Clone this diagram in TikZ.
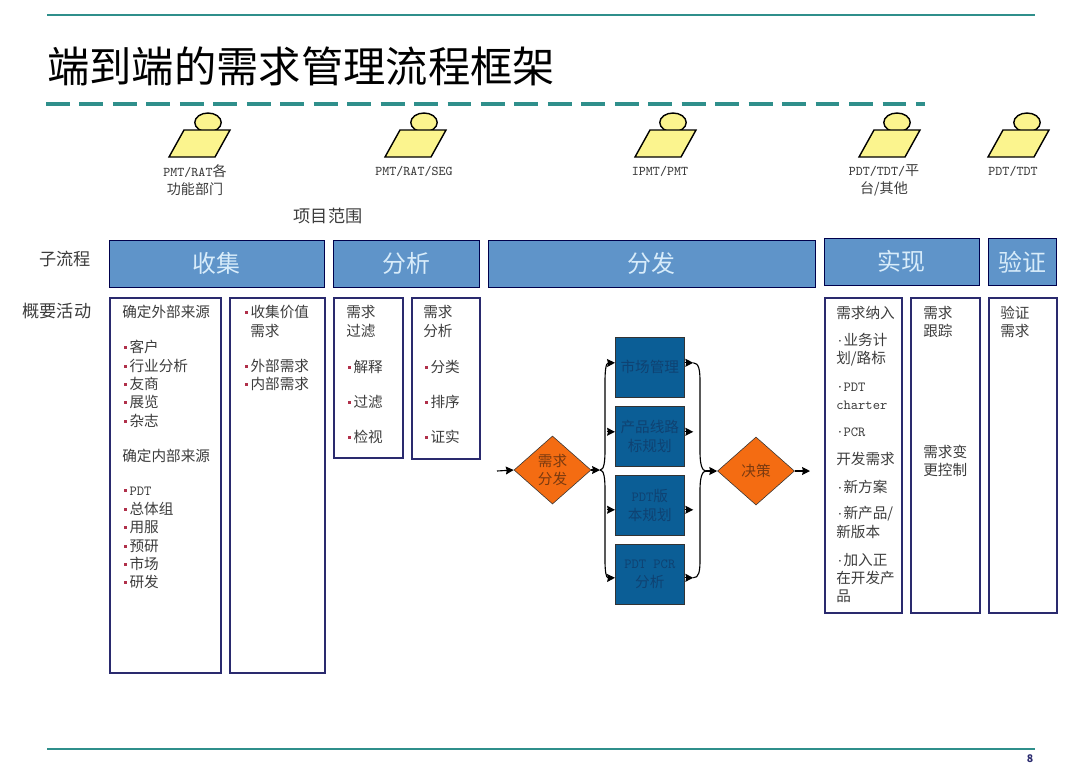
\documentclass[tikz,border=0pt]{standalone}
\usepackage{fontspec}
\setmainfont{Noto Sans CJK SC}
\setmonofont[Scale=0.95]{Latin Modern Mono}
\usetikzlibrary{arrows.meta,shapes.geometric}
\definecolor{tealline}{HTML}{2F8F8B}
\definecolor{headblue}{HTML}{5F94C9}
\definecolor{headtext}{HTML}{D8ECFA}
\definecolor{navyline}{HTML}{2A2A6E}
\definecolor{deepblue}{HTML}{0B5E96}
\definecolor{deeptext}{HTML}{0F4272}
\definecolor{flagorange}{HTML}{F46C12}
\definecolor{flagtext}{HTML}{7A3A10}
\definecolor{actoryellow}{HTML}{FBF48E}
\definecolor{graytext}{HTML}{3C3C3C}
\definecolor{bulletred}{HTML}{B0304A}
\newcommand{\lat}[1]{{\ttfamily #1}}
\newcommand{\bul}{\hspace{1.4pt}\textcolor{bulletred}{\rule[2.6pt]{1.8pt}{1.8pt}}\hspace{2pt}}
\tikzset{
  headbox/.style 2 args={draw=black!70!blue,fill=headblue,text=headtext,font=\fontsize{17}{20}\selectfont,
    minimum width=(#1-1)*0.25mm,minimum height=(#2-1)*0.25mm,inner sep=0pt},
  listbox/.style 2 args={draw=navyline,line width=1.1pt,anchor=north west,
    minimum width=(#1-1)*0.25mm,minimum height=(#2-1)*0.25mm,inner sep=0pt},
  listtext/.style={anchor=west,inner sep=0pt,text=graytext,font=\fontsize{10.4}{12}\selectfont},
  toptext/.style={inner sep=0pt,text=graytext,align=center,font=\fontsize{10}{13}\selectfont},
  sidetext/.style={inner sep=0pt,text=graytext,font=\fontsize{12.2}{14}\selectfont},
  planbox/.style={draw=black!80,fill=deepblue,text=deeptext,align=center,anchor=north west,
    minimum width=69*0.25mm,minimum height=60*0.25mm,inner sep=0pt,font=\fontsize{10.4}{13}\selectfont},
  decide/.style={diamond,draw=black!80,fill=flagorange,text=flagtext,align=center,
    aspect=1.12,minimum width=77*0.25mm,minimum height=68*0.25mm,inner sep=0pt,font=\fontsize{10.4}{13}\selectfont},
  flow/.style={line width=0.8pt,-{Stealth[length=5.6pt,width=5.6pt,inset=0.6pt]}},
  plainflow/.style={line width=0.8pt},
}
\begin{document}
\begin{tikzpicture}[x=0.25mm,y=-0.25mm]
  \useasboundingbox (0,0) rectangle (1080,764);
  % page frame
  \draw[tealline,line width=1pt] (47,15) -- (1035,15);
  \draw[tealline,line width=1pt] (47,749) -- (1035,749);
  \draw[tealline,line width=2.4pt,dash pattern=on 17pt off 6.8pt] (46,104) -- (925,104);
  \node[anchor=west,inner sep=0pt,font=\fontsize{30.1}{32}\selectfont] (title) at (47,66) {端到端的需求管理流程框架};
  \node[inner sep=0pt,text=navyline,font=\bfseries\fontsize{7.5}{9}\selectfont] (pageno) at (1030,759) {8};

  % roles
  \foreach \x/\h in {169/208,385/424,635/673,859/897,988/1027}{
    \draw[fill=actoryellow,line width=1pt] (\h,122.5) ellipse (13.2 and 9.5);
    \draw[fill=actoryellow,line width=1pt] (\x,157) -- (\x+15,130) -- (\x+61,130) -- (\x+46,157) -- cycle;}
  \node[toptext] (role1) at (195,180) {\lat{PMT/RAT}各\\功能部门};
  \node[toptext] (role2) at (414,171) {\lat{PMT/RAT/SEG}};
  \node[toptext] (role3) at (660,171) {\lat{IPMT/PMT}};
  \node[toptext] (role4) at (884,180) {\lat{PDT/TDT/}平\\台/其他};
  \node[toptext] (role5) at (1013,171) {\lat{PDT/TDT}};
  \node[sidetext] (scope) at (328,216) {项目范围};

  % row titles
  \node[sidetext] (rowsub) at (65,259) {子流程};
  \node[sidetext] (rowact) at (57,311) {概要活动};

  % phase headers
  \node[headbox={216}{48},anchor=north west] (collect) at (109,240) {收集};
  \node[headbox={147}{48},anchor=north west] (analyse) at (333,240) {分析};
  \node[headbox={328}{48},anchor=north west] (assign) at (488,240) {分发};
  \node[headbox={156}{48},anchor=north west] (realize) at (824,238) {实现};
  \node[headbox={69}{48},anchor=north west] (verify) at (988,238) {验证};

  % activity boxes
  \node[listbox={112}{376}] (list1) at (109,297) {};
  \node[listbox={96}{376}] (list2) at (229,297) {};
  \node[listbox={70}{161}] (list3) at (333,297) {};
  \node[listbox={69}{162}] (list4) at (411,297) {};
  \node[listbox={78}{316}] (list5) at (824,297) {};
  \node[listbox={70}{316}] (list6) at (910,297) {};
  \node[listbox={69}{316}] (list7) at (988,297) {};

  \foreach \y/\t in {312/确定外部来源,347/\bul 客户,366/\bul 行业分析,384/\bul 友商,402/\bul 展览,421/\bul 杂志,
    456/确定内部来源,491/\bul\lat{PDT},509/\bul 总体组,527/\bul 用服,546/\bul 预研,564/\bul 市场,582/\bul 研发}{
    \node[listtext] at (122,\y) {\t};}
  \foreach \y/\t in {312/\bul 收集价值,366/\bul 外部需求,384/\bul 内部需求}{
    \node[listtext] at (243,\y) {\t};}
  \node[listtext] (more) at (250,331) {需求};
  \foreach \y/\t in {312/需求,331/过滤,367/\bul 解释,402/\bul 过滤,437/\bul 检视}{
    \node[listtext] at (346,\y) {\t};}
  \foreach \y/\t in {312/需求,331/分析,367/\bul 分类,402/\bul 排序,437/\bul 证实}{
    \node[listtext] at (423,\y) {\t};}
  \foreach \y/\t in {313/需求纳入,340/\lat{·}业务计,359/{划/路标},387/\lat{·PDT},405/\lat{charter},432/\lat{·PCR},459/开发需求,
    487/\lat{·}新方案,514/{\lat{·}新产品/},532/新版本,560/\lat{·}加入正,578/在开发产,596/品}{
    \node[listtext] at (836,\y) {\t};}
  \foreach \y/\t in {313/需求,331/跟踪,452/需求变,470/更控制}{
    \node[listtext] at (923,\y) {\t};}
  \foreach \y/\t in {313/验证,331/需求}{
    \node[listtext] at (1000,\y) {\t};}

  % distribution flow
  \node[planbox] (market) at (615,337) {市场管理};
  \node[planbox] (line) at (615,406) {产品线路\\标规划};
  \node[planbox] (version) at (615,475) {\lat{PDT}版\\本规划};
  \node[planbox] (pcr) at (615,544) {\lat{PDT PCR}\\分析};
  \node[decide] (split) at (552.5,470) {需求\\分发};
  \node[decide] (choice) at (756,471) {决策};
  \coordinate (inflow) at (497,471);
  \coordinate (outflow) at (810,471);
  \coordinate (lsplit) at (600,470);
  \draw[flow] (inflow) -- (split.west);
  \draw[flow] (split.east) -- (lsplit);
  \draw[flow] (choice.east) -- (outflow);
  \draw[flow] (lsplit) .. controls (604,470) and (605,462) .. (605,450) -- (605,382)
    .. controls (605,370) and (606,363) .. ([yshift=3.2pt]market.west);
  \draw[flow] (lsplit) .. controls (604,470) and (605,478) .. (605,490) -- (605,560)
    .. controls (605,571) and (606,578) .. ([yshift=-2.5pt]pcr.west);
  \draw[flow] ([xshift=-5.6pt,yshift=3.2pt]line.west) -- ([yshift=3.2pt]line.west);
  \draw[flow] ([xshift=-5.6pt,yshift=-3.2pt]version.west) -- ([yshift=-3.2pt]version.west);

  \foreach \b/\s in {market/3.2,line/3.2,version/-3.2,pcr/-2.5}{
    \draw[flow] ([yshift=\s pt]\b.east) -- ([xshift=6.2pt,yshift=\s pt]\b.east);}
  \coordinate (rjoin) at (706,471);
  \draw[plainflow] ([xshift=6.2pt,yshift=3.2pt]market.east) .. controls (699,363) and (700,370) .. (700,382)
    -- (700,452) .. controls (700,464) and (702,471) .. (rjoin);
  \draw[plainflow] ([xshift=6.2pt,yshift=-2.5pt]pcr.east) .. controls (699,578) and (700,571) .. (700,560)
    -- (700,490) .. controls (700,478) and (702,471) .. (rjoin);
  \draw[flow] (rjoin) -- (choice.west);
\end{tikzpicture}
\end{document}
